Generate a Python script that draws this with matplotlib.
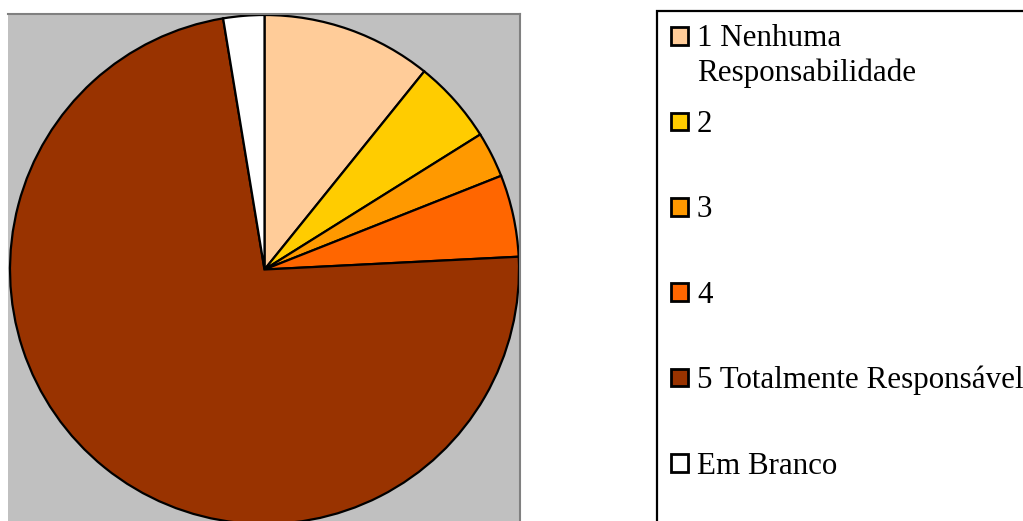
import matplotlib
matplotlib.use("Agg")
import matplotlib.pyplot as plt
from matplotlib.patches import Rectangle

labels = ["1 Nenhuma\nResponsabilidade", "2", "3", "4", "5 Totalmente Responsável", "Em Branco"]
values = [10.8, 5.3, 2.9, 5.2, 73.2, 2.6]
colors = ["#FFCC99", "#FFCC00", "#FF9900", "#FF6600", "#993300", "#FFFFFF"]

W, H = 1023, 521
fig = plt.figure(figsize=(W / 100, H / 100), dpi=100)
fig.patch.set_facecolor("white")

# plot area (pixel coordinates: x 8..520, y 14..521 from top)
px0, px1, py_top = 8, 520, 14
ax = fig.add_axes([px0 / W, 0, (px1 - px0) / W, (H - py_top) / H])
ax.set_facecolor("#C0C0C0")
cx, cy, r = 264.5, H - 269.5, 254.5
ax.pie(values, colors=colors, startangle=90, counterclock=False,
       radius=r, center=(cx, cy), frame=True,
       wedgeprops=dict(edgecolor="black", linewidth=1.6))
ax.set_xlim(px0, px1)
ax.set_ylim(0, H - py_top)
ax.set_xticks([])
ax.set_yticks([])
for s in ["left", "bottom"]:
    ax.spines[s].set_visible(False)
for s in ["top", "right"]:
    ax.spines[s].set_color("#808080")
    ax.spines[s].set_linewidth(1.5)

# legend drawn in figure pixel coordinates
lax = fig.add_axes([0, 0, 1, 1])
lax.set_xlim(0, W)
lax.set_ylim(H, 0)
lax.axis("off")
lax.add_patch(Rectangle((657, 11), 420, 560, facecolor="white",
                        edgecolor="black", linewidth=1.6, clip_on=False))
first_center = 36.0
step = 85.4
sq = 17.5
line_gap = 35
for i, (lab, col) in enumerate(zip(labels, colors)):
    yc = first_center + i * step
    lax.add_patch(Rectangle((670.5, yc - sq / 2), sq, sq, facecolor=col,
                            edgecolor="black", linewidth=2.0))
    for j, line in enumerate(lab.split("\n")):
        lax.text(697, yc + 10.5 + j * line_gap, line, fontsize=22.3,
                 family="Liberation Serif", va="baseline", ha="left",
                 color="black")

fig.savefig("out.png", dpi=100)
